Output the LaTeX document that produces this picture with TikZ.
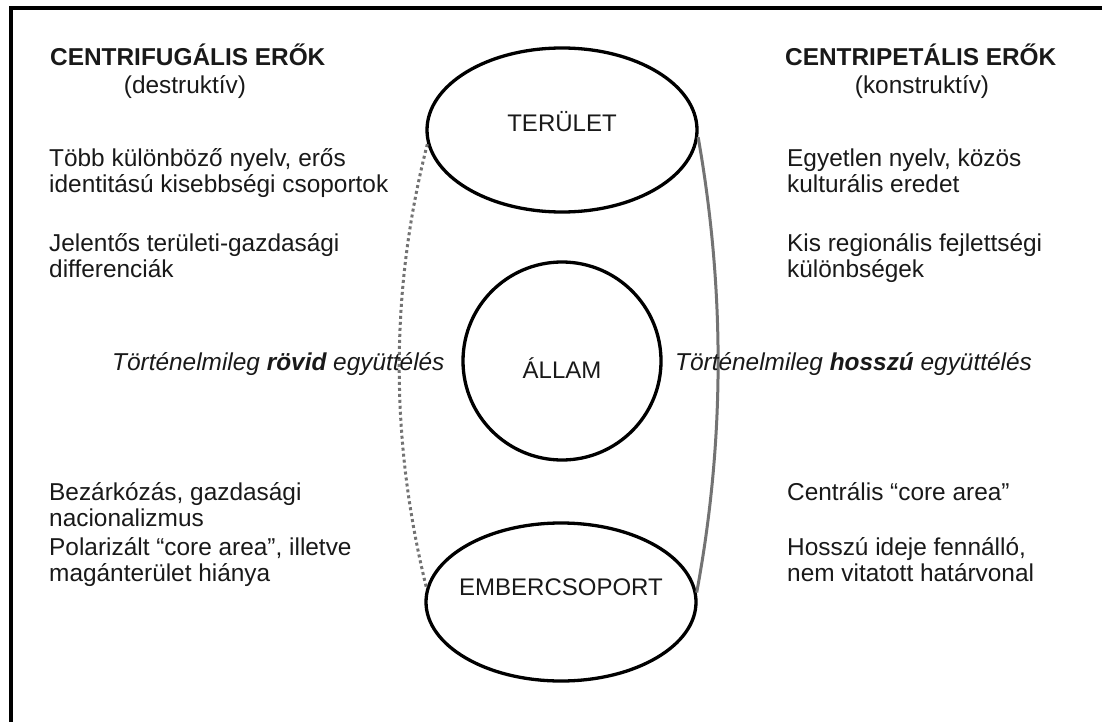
\documentclass[tikz,border=0pt]{standalone}
\usepackage{fontspec}
\setmainfont{Liberation Sans}
\usetikzlibrary{shapes.geometric}
\definecolor{txtblack}{RGB}{25, 25, 25}
\definecolor{linkgray}{RGB}{115, 115, 115}

\begin{document}
\begin{tikzpicture}[x=1pt, y=-1pt,
  sidetxt/.style={anchor=base west, align=left, inner sep=0pt, text=txtblack, font=\fontsize{24.4}{26}\selectfont},
  headtxt/.style={sidetxt, font=\fontsize{24.4}{26}\selectfont\bfseries},
  subtxt/.style={anchor=base, inner sep=0pt, text=txtblack, font=\fontsize{24.4}{26}\selectfont},
  regionnode/.style={draw, line width=3.3pt, inner sep=0pt},
  regionlbl/.style={text=txtblack, font=\fontsize{24}{26}\selectfont}
]
  \useasboundingbox (0,0) rectangle (1105,722);
  % frame
  \draw[line width=3.5pt] (1102,8) -- (11,8) -- (11,722);

  % the three parts of the state
  \node[regionnode, ellipse, minimum width=270, minimum height=164,
    label={[regionlbl, yshift=8]center:TERÜLET}] (terulet) at (562,130) {};
  \node[regionnode, circle, minimum size=198,
    label={[regionlbl, yshift=-7]center:ÁLLAM}] (allam) at (562,361) {};
  \node[regionnode, ellipse, minimum width=270, minimum height=158,
    label={[regionlbl, yshift=15]center:EMBERCSOPORT}] (ember) at (561,602) {};

  % connections
  \draw[linkgray, line width=3pt, dash pattern=on 3pt off 3pt] (terulet.186) .. controls (390,290) and (390,440) .. (ember.174);
  \draw[linkgray, line width=3pt] (terulet.357) .. controls (725,290) and (725,440) .. (ember.4);

  % Centrifugal side (base = last line)
  \node[headtxt] (cfhead) at (50,66) {CENTRIFUGÁLIS ERŐK};
  \node[subtxt] (cfsub) at (185,94) {(destruktív)};
  \node[sidetxt] (cf1) at (49,193) {Több különböző nyelv, erős\\identitású kisebbségi csoportok};
  \node[sidetxt] (cf2) at (49,277) {Jelentős területi-gazdasági\\differenciák};
  \node[sidetxt] (cf3) at (112,370) {\itshape Történelmileg \textbf{rövid} együttélés};
  \node[sidetxt] (cf4) at (49,526) {Bezárkózás, gazdasági\\nacionalizmus};
  \node[sidetxt] (cf5) at (49,581) {Polarizált “core area”, illetve\\magánterület hiánya};

  % Centripetal side
  \node[headtxt] (cphead) at (785,66) {CENTRIPETÁLIS ERŐK};
  \node[subtxt] (cpsub) at (922,94) {(konstruktív)};
  \node[sidetxt] (cp1) at (787,193) {Egyetlen nyelv, közös\\kulturális eredet};
  \node[sidetxt] (cp2) at (787,277) {Kis regionális fejlettségi\\különbségek};
  \node[sidetxt] (cp3) at (675,370) {\itshape Történelmileg \textbf{hosszú} együttélés};
  \node[sidetxt] (cp4) at (787,500) {Centrális “core area”};
  \node[sidetxt] (cp5) at (787,581) {Hosszú ideje fennálló,\\nem vitatott határvonal};
\end{tikzpicture}
\end{document}
